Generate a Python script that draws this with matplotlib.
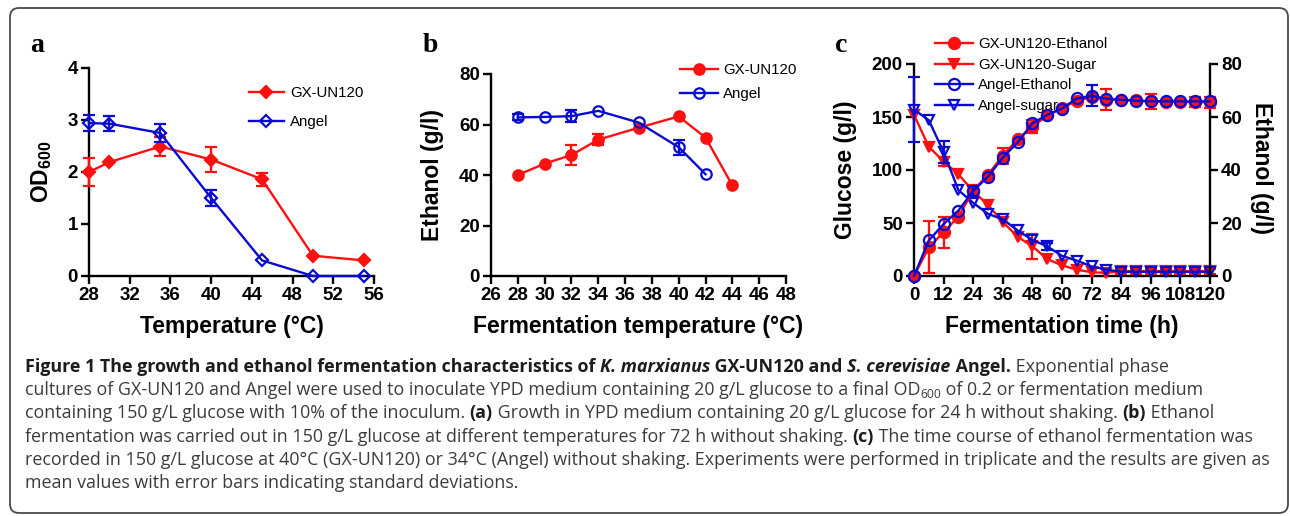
import numpy as np
import matplotlib
matplotlib.use("Agg")
import matplotlib.pyplot as plt
from matplotlib.patches import FancyBboxPatch
from matplotlib.transforms import IdentityTransform

# ---------------- data ----------------
temp_a = [28, 30, 35, 40, 45, 50, 55]
od_gx = [2.00, 2.19, 2.49, 2.24, 1.86, 0.39, 0.30]
od_gx_err = [0.26, None, 0.19, 0.24, 0.12, None, None]
od_angel = [2.94, 2.93, 2.75, 1.50, 0.30, 0.0, 0.0]
od_angel_err = [0.15, 0.14, 0.17, 0.16, None, None, None]

temp_b_gx = [28, 30, 32, 34, 37, 40, 42, 44]
eth_b_gx = [40.0, 44.5, 47.9, 54.0, 58.7, 63.2, 54.8, 35.9]
eth_b_gx_err = [None, None, 3.8, 2.2, None, None, None, None]
temp_b_angel = [28, 30, 32, 34, 37, 40, 42]
eth_b_angel = [62.8, 63.0, 63.3, 65.4, 60.8, 51.0, 40.3]
eth_b_angel_err = [1.2, None, 2.3, None, None, 3.0, None]

time_c = [0, 6, 12, 18, 24, 30, 36, 42, 48, 54, 60, 66, 72, 78, 84, 90, 96, 102, 108, 114, 120]
gx_ethanol = [0.0, 10.8, 16.5, 22.4, 32.2, 38.3, 45.4, 51.6, 56.3, 60.6, 63.3, 66.2, 67.5, 66.6,
              66.5, 66.3, 65.9, 65.8, 65.7, 65.6, 65.5]
gx_ethanol_err = [None, 9.8, 5.9, None, 2.0, None, 3.0, None, 2.5, None, None, None, None, 4.0,
                  None, None, 2.8, None, None, 2.0, 2.0]
gx_sugar = [152, 122, 108, 96, 80, 67, 51, 37, 28, 16, 10, 6, 3.5, 3.0,
            4.5, 4.5, 4.5, 4.5, 4.5, 4.5, 4.5]
gx_sugar_err = [None, None, 4.0, None, 5.0, None, None, None, 12.0, None, None, None, None, None,
                2.5, 2.5, 2.5, 2.5, 2.5, 2.5, 2.5]
angel_ethanol = [0.0, 13.4, 19.6, 24.7, 32.1, 37.5, 44.7, 50.4, 57.6, 60.8, 63.2, 67.0, 68.0, 66.9,
                 66.5, 66.1, 65.9, 65.9, 65.9, 65.9, 65.9]
angel_ethanol_err = [None, None, None, None, 2.0, None, None, None, None, None, None, None, 3.9, None,
                     None, None, None, None, None, None, None]
angel_sugar = [157, 147, 117, 81, 69, 58.6, 53.5, 43, 34, 28, 19, 14.5, 9, 6,
               4, 4, 4, 4, 4, 4, 4]
angel_sugar_err = [30.5, None, 10.0, None, None, None, None, None, None, 3.5, None, None, None, None,
                   None, None, None, None, None, None, None]

ticks_a_x = [28, 32, 36, 40, 44, 48, 52, 56]
ticks_a_y = [0, 1, 2, 3, 4]
ticks_b_x = list(range(26, 49, 2))
ticks_b_y = [0, 20, 40, 60, 80]
ticks_c_x = list(range(0, 121, 12))
ticks_c_yl = [0, 50, 100, 150, 200]
ticks_c_yr = [0, 20, 40, 60, 80]

RED = "#ff1010"
BLUE = "#0a0ad0"

W, H, DPI = 1290, 516, 100
plt.rcParams["font.family"] = ["Liberation Sans", "DejaVu Sans"]
plt.rcParams["mathtext.fontset"] = "custom"
plt.rcParams["mathtext.rm"] = "Liberation Sans:bold"
plt.rcParams["mathtext.bf"] = "Liberation Sans:bold"
plt.rcParams["mathtext.it"] = "Liberation Sans:bold"

fig = plt.figure(figsize=(W / DPI, H / DPI), dpi=DPI)
fig.patch.set_facecolor("white")


def arr(v):
    return np.array([np.nan if x is None else x for x in v], dtype=float)


def add_axes_px(l, t, r, b):
    return fig.add_axes([l / W, 1 - b / H, (r - l) / W, (b - t) / H])


def style(ax, right=False):
    ax.spines["top"].set_visible(False)
    if not right:
        ax.spines["right"].set_visible(False)
    for sp in ax.spines.values():
        sp.set_linewidth(1.7)
    ax.tick_params(width=1.7, length=5.5, labelsize=13.5, pad=2.5, direction="out")
    for lab in ax.get_xticklabels() + ax.get_yticklabels():
        lab.set_fontweight("bold")


def eb(ax, x, y, err, color, marker, ms, filled, z=3):
    c = ax.errorbar(x, arr(y), yerr=arr(err), color=color, lw=1.7, marker=marker, ms=ms,
                    mfc=color if filled else "none", mec=color, mew=1.6,
                    capsize=4.5, capthick=1.7, elinewidth=1.7, zorder=z)
    for a in c.get_children():
        a.set_clip_on(False)
    return c


LEG_FS = 10.8

# ---------------- panel a ----------------
axa = add_axes_px(89, 68, 374, 276)
ea1 = eb(axa, temp_a, od_gx, od_gx_err, RED, "D", 6.5, True)
ea2 = eb(axa, temp_a, od_angel, od_angel_err, BLUE, "D", 6.5, False, z=4)
axa.set_xlim(28, 56)
axa.set_ylim(0, 4)
axa.set_xticks(ticks_a_x)
axa.set_yticks(ticks_a_y)
style(axa)
axa.set_xlabel("Temperature (°C)", fontsize=16.5, fontweight="bold")
axa.set_ylabel("OD$_{600}$", fontsize=16.5, fontweight="bold")
axa.xaxis.set_label_coords(0.5, (276 - 327) / 208)
axa.xaxis.label.set_va("center")
axa.yaxis.set_label_coords((42 - 89) / 285, 0.5)
axa.yaxis.label.set_va("center")
axa.legend([ea1[0], ea2[0]], ["GX-UN120", "Angel"], loc="upper left",
           bbox_to_anchor=(249 / W, 1 - 86 / H), bbox_transform=fig.transFigure,
           frameon=False, borderpad=0, borderaxespad=0, fontsize=LEG_FS,
           handlelength=2.3, handletextpad=0.45, labelspacing=1.02, numpoints=1)

# ---------------- panel b ----------------
axb = add_axes_px(491, 74, 786, 276)
eb1 = eb(axb, temp_b_gx, eth_b_gx, eth_b_gx_err, RED, "o", 7.5, True)
eb2 = eb(axb, temp_b_angel, eth_b_angel, eth_b_angel_err, BLUE, "o", 7.5, False, z=4)
axb.set_xlim(26, 48)
axb.set_ylim(0, 80)
axb.set_xticks(ticks_b_x)
axb.set_yticks(ticks_b_y)
style(axb)
axb.set_xlabel("Fermentation temperature (°C)", fontsize=16.5, fontweight="bold")
axb.set_ylabel("Ethanol (g/l)", fontsize=16.5, fontweight="bold")
axb.xaxis.set_label_coords(0.5, (276 - 327) / 202)
axb.xaxis.label.set_va("center")
axb.yaxis.set_label_coords((432 - 491) / 295, 0.5)
axb.yaxis.label.set_va("center")
axb.legend([eb1[0], eb2[0]], ["GX-UN120", "Angel"], loc="upper left",
           bbox_to_anchor=(680 / W, 1 - 63 / H), bbox_transform=fig.transFigure,
           frameon=False, borderpad=0, borderaxespad=0, fontsize=LEG_FS,
           handlelength=2.55, handletextpad=0.33, labelspacing=0.65, numpoints=1)

# ---------------- panel c ----------------
axc = add_axes_px(914, 64, 1210, 276)
axc2 = axc.twinx()
ec2 = eb(axc, time_c, gx_sugar, gx_sugar_err, RED, "v", 7.5, True)
ec4 = eb(axc, time_c, angel_sugar, angel_sugar_err, BLUE, "v", 7.5, False, z=4)
ec1 = eb(axc2, time_c, gx_ethanol, gx_ethanol_err, RED, "o", 8, True)
ec3 = eb(axc2, time_c, angel_ethanol, angel_ethanol_err, BLUE, "o", 8, False, z=4)
axc.set_xlim(0, 120)
axc.set_ylim(0, 200)
axc2.set_ylim(0, 80)
axc.set_xticks(ticks_c_x)
axc.set_yticks(ticks_c_yl)
axc2.set_yticks(ticks_c_yr)
style(axc)
style(axc2, right=True)
axc.spines["right"].set_visible(False)
axc2.spines["left"].set_visible(False)
axc2.spines["bottom"].set_visible(False)
axc.set_xlabel("Fermentation time (h)", fontsize=16.5, fontweight="bold")
axc.set_ylabel("Glucose (g/l)", fontsize=16.5, fontweight="bold")
axc2.set_ylabel("Ethanol (g/l)", fontsize=16.5, fontweight="bold", rotation=270)
axc.xaxis.set_label_coords(0.5, (276 - 327) / 212)
axc.xaxis.label.set_va("center")
axc.yaxis.set_label_coords((846 - 914) / 296, 0.5)
axc.yaxis.label.set_va("center")
axc2.yaxis.set_label_coords((1262 - 914) / 296, 0.5 + 2 / 212)
axc2.yaxis.label.set_va("center")
axc.legend([ec1[0], ec2[0], ec3[0], ec4[0]],
           ["GX-UN120-Ethanol", "GX-UN120-Sugar", "Angel-Ethanol", "Angel-sugar"],
           loc="upper left", bbox_to_anchor=(935 / W, 1 - 37 / H), bbox_transform=fig.transFigure,
           frameon=False, borderpad=0, borderaxespad=0, fontsize=LEG_FS,
           handlelength=2.55, handletextpad=0.33, labelspacing=0.45, numpoints=1)
axc.set_zorder(1)
axc2.set_zorder(2)

# ---------------- panel letters ----------------
for lx, s in [(30, "a"), (423, "b"), (835, "c")]:
    fig.text(lx / W, 1 - 52 / H, s, fontsize=20, fontweight="bold",
             family=["Liberation Serif", "DejaVu Serif"], va="baseline", ha="left")

# ---------------- caption box ----------------
box = FancyBboxPatch((10, H - 513), 1278, 505, boxstyle="round,pad=0,rounding_size=9",
                     transform=IdentityTransform(), fill=False, ec="#4a4a4a", lw=1.3)
fig.patches.append(box)

# ---------------- caption text ----------------
renderer = fig.canvas.get_renderer()
CAP_FAM = ["Open Sans", "DejaVu Sans"]
REG_COL = "#3c3c3c"
BOLD_COL = "#1c1c1c"


def measure(s, size, weight, style_):
    t1 = fig.text(0, 0, "|" + s + "|", fontsize=size, fontweight=weight, fontstyle=style_, family=CAP_FAM)
    t2 = fig.text(0, 0, "||", fontsize=size, fontweight=weight, fontstyle=style_, family=CAP_FAM)
    w = t1.get_window_extent(renderer).width - t2.get_window_extent(renderer).width
    t1.remove()
    t2.remove()
    return w


base = 10.0
target = 1272 - 25
w5 = measure("recorded in 150 g/L glucose at 40°C (GX-UN120) or 34°C (Angel) without shaking. "
             "Experiments were performed in triplicate and the results are given as", base, "normal", "normal")
CAP_FS = base * target / w5

N = ("normal", "normal")
B = ("bold", "normal")
BI = ("bold", "italic")
lines = [
    [("Figure 1 The growth and ethanol fermentation characteristics of ", B), ("K. marxianus", BI),
     (" GX-UN120 and ", B), ("S. cerevisiae", BI), (" Angel.", B), (" Exponential phase", N)],
    [("cultures of GX-UN120 and Angel were used to inoculate YPD medium containing 20 g/L glucose to a final OD", N),
     ("600", "sub"), (" of 0.2 or fermentation medium", N)],
    [("containing 150 g/L glucose with 10% of the inoculum. ", N), ("(a)", B),
     (" Growth in YPD medium containing 20 g/L glucose for 24 h without shaking. ", N), ("(b)", B), (" Ethanol", N)],
    [("fermentation was carried out in 150 g/L glucose at different temperatures for 72 h without shaking. ", N),
     ("(c)", B), (" The time course of ethanol fermentation was", N)],
    [("recorded in 150 g/L glucose at 40°C (GX-UN120) or 34°C (Angel) without shaking. "
      "Experiments were performed in triplicate and the results are given as", N)],
    [("mean values with error bars indicating standard deviations.", N)],
]
baselines = [372, 395, 418, 442, 465, 488]
for yb, runs in zip(baselines, lines):
    x = 25.0
    for s, st in runs:
        if st == "sub":
            size, weight, fst, dy = CAP_FS * 0.68, "normal", "normal", 3.5
        else:
            size, weight, fst, dy = CAP_FS, st[0], st[1], 0
        col = BOLD_COL if weight == "bold" else REG_COL
        fig.text(x / W, 1 - (yb + dy) / H, s, fontsize=size, fontweight=weight, fontstyle=fst,
                 family=CAP_FAM, color=col, va="baseline", ha="left")
        x += measure(s, size, weight, fst)

fig.savefig("out.png", dpi=DPI, facecolor="white")
